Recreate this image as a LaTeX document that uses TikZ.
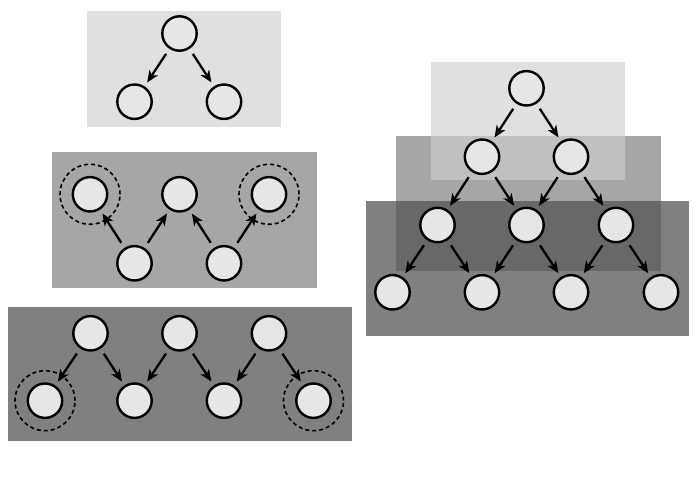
\documentclass[tikz,border=0pt]{standalone}
\usetikzlibrary{arrows.meta}
\definecolor{boxlight}{HTML}{E0E0E0}
\definecolor{boxmid}{HTML}{A6A6A6}
\definecolor{boxdark}{HTML}{808080}
\definecolor{ovlight}{HTML}{C0C0C0}
\definecolor{ovdark}{HTML}{686868}
\definecolor{nodefill}{HTML}{E6E6E6}
\tikzset{
  vert/.style={circle, draw=black, line width=2.4pt, fill=nodefill, minimum size=34.4pt, inner sep=0pt},
  halo/.style={circle, draw=black, line width=1.6pt, dash pattern=on 4pt off 3pt, minimum size=60pt, inner sep=0pt},
  edge/.style={line width=2.3pt, -{Stealth[length=12pt,width=10pt,inset=3.5pt]}, shorten <=6pt, shorten >=4.5pt},
}
\begin{document}
\begin{tikzpicture}[x=1pt,y=-1pt]
\useasboundingbox (0,0) rectangle (696,492);
% ---------- left boxes ----------
\fill[boxlight] (87,11) rectangle (281,127);
\fill[boxmid] (52,152.5) rectangle (317,287.5);
\fill[boxdark] (8,306.7) rectangle (351.5,441);
% ---------- right boxes ----------
\fill[boxlight] (431,62.5) rectangle (625,179.5);
\fill[boxmid] (396,136) rectangle (661,270.5);
\fill[ovlight] (431,136) rectangle (625,179.5);
\fill[boxdark] (365.5,201) rectangle (688.5,336);
\fill[ovdark] (396,201) rectangle (661,270.5);

% ---------- left top ----------
\node[vert] (a0) at (179.5,33.5) {};
\node[vert] (a1) at (134.5,101.7) {};
\node[vert] (a2) at (224,101.7) {};
\draw[edge] (a0) -- (a1);
\draw[edge] (a0) -- (a2);

% ---------- left middle ----------
\node[vert] (b1) at (90,194.3) {};
\node[vert] (b2) at (179.5,194.3) {};
\node[vert] (b3) at (269,194.3) {};
\node[vert] (b4) at (134.5,263.3) {};
\node[vert] (b5) at (224,263.3) {};
\node[halo] (h1) at (90,194.3) {};
\node[halo] (h2) at (269,194.3) {};
\draw[edge] (b4) -- (b1);
\draw[edge] (b4) -- (b2);
\draw[edge] (b5) -- (b2);
\draw[edge] (b5) -- (b3);

% ---------- left bottom ----------
\node[vert] (c1) at (90.5,333.3) {};
\node[vert] (c2) at (179.5,333.3) {};
\node[vert] (c3) at (269,333.3) {};
\node[vert] (c4) at (45,400.7) {};
\node[vert] (c5) at (134.5,400.7) {};
\node[vert] (c6) at (224,400.7) {};
\node[vert] (c7) at (313.5,400.7) {};
\node[halo] (h3) at (45,400.7) {};
\node[halo] (h4) at (313.5,400.7) {};
\draw[edge] (c1) -- (c4);
\draw[edge] (c1) -- (c5);
\draw[edge] (c2) -- (c5);
\draw[edge] (c2) -- (c6);
\draw[edge] (c3) -- (c6);
\draw[edge] (c3) -- (c7);

% ---------- right pyramid ----------
\node[vert] (r0) at (526.5,88.3) {};
\node[vert] (r1) at (482,156.7) {};
\node[vert] (r2) at (571,156.7) {};
\node[vert] (r3) at (437.5,225) {};
\node[vert] (r4) at (526.5,225) {};
\node[vert] (r5) at (616,225) {};
\node[vert] (r6) at (392.5,292.3) {};
\node[vert] (r7) at (482,292.3) {};
\node[vert] (r8) at (571,292.3) {};
\node[vert] (r9) at (661,292.3) {};
\draw[edge] (r0) -- (r1);
\draw[edge] (r0) -- (r2);
\draw[edge] (r1) -- (r3);
\draw[edge] (r1) -- (r4);
\draw[edge] (r2) -- (r4);
\draw[edge] (r2) -- (r5);
\draw[edge] (r3) -- (r6);
\draw[edge] (r3) -- (r7);
\draw[edge] (r4) -- (r7);
\draw[edge] (r4) -- (r8);
\draw[edge] (r5) -- (r8);
\draw[edge] (r5) -- (r9);
\end{tikzpicture}
\end{document}
